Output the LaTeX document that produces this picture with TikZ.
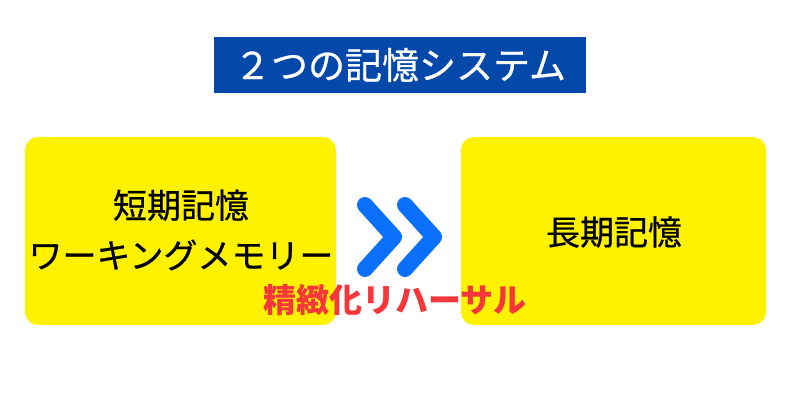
\documentclass[tikz,border=0pt]{standalone}
\usepackage{fontspec}
\setmainfont{Noto Sans CJK JP}
\newfontfamily\mediumjp[FakeBold=0.6]{Noto Sans CJK JP}
\definecolor{boxyellow}{RGB}{255,242,0}
\definecolor{titleblue}{RGB}{4,72,170}
\definecolor{chevblue}{RGB}{10,112,250}
\definecolor{labelred}{RGB}{245,55,60}
\tikzset{
  memorybox/.style={draw=none, fill=boxyellow, rounded corners=13pt, inner sep=0pt},
  memorytext/.style={text=black, align=center, inner sep=0pt, font=\mediumjp\fontsize{34}{50}\selectfont},
  titlebox/.style={fill=titleblue, text=white, inner sep=0pt, minimum width=372pt, minimum height=56pt, font=\mediumjp\fontsize{37}{40}\selectfont},
  chevron/.style={draw=chevblue, line width=16pt, line cap=round, line join=round},
  rehearsal/.style={text=labelred, inner sep=0pt, font=\fontsize{33}{36}\selectfont\bfseries}
}
\begin{document}
\begin{tikzpicture}[x=1pt,y=1pt]
\useasboundingbox (0,0) rectangle (800,420);
\fill[white] (0,0) rectangle (800,420);
% title
\node[titlebox] (title) at (400,355) {２つの記憶システム};
% boxes
\node[memorybox, minimum width=311pt, minimum height=188pt] (stm) at (180.5,189) {};
\node[memorybox, minimum width=305pt, minimum height=188pt] (ltm) at (613.5,189) {};
\node[memorytext] (stmtext) at (181,190) {短期記憶\\ワーキングメモリー};
\node[memorytext] (ltmtext) at (614,188) {長期記憶};
% chevrons
\coordinate (c1a) at (365,215);
\coordinate (c1b) at (394,183);
\coordinate (c1c) at (365,151);
\coordinate (c2a) at (405,215);
\coordinate (c2b) at (434,183);
\coordinate (c2c) at (405,151);
\draw[chevron] (c1a) -- (c1b) -- (c1c);
\draw[chevron] (c2a) -- (c2b) -- (c2c);
% label
\node[rehearsal] (label) at (395,120) {精緻化リハーサル};
\end{tikzpicture}
\end{document}
